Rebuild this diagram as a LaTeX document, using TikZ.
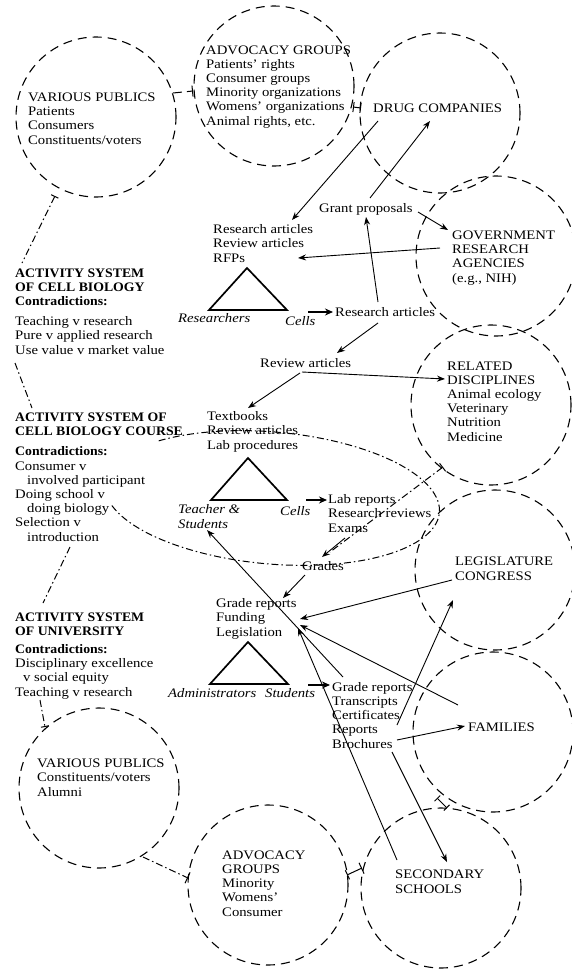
\documentclass[tikz,border=0pt]{standalone}
\usepackage{fontspec}
\setmainfont[FakeStretch=1.13]{Liberation Serif}
\newfontfamily\hdfont[FakeStretch=1.06]{Liberation Serif}
\newcommand\hdb[1]{{\hdfont\bfseries #1}}
\usetikzlibrary{arrows.meta}
\begin{document}
\begin{tikzpicture}[x=1pt,y=-1pt,
 circ/.style={circle,draw,dash pattern=on 9pt off 6pt,line width=1.1pt,minimum size=160pt,inner sep=0pt},
 txt/.style={font=\fontsize{13}{14.2}\selectfont,inner sep=0pt,align=left,anchor=base west},
 itxt/.style={txt,font=\fontsize{13}{14.2}\selectfont\itshape},
 arr/.style={line width=0.9pt,-{Stealth[length=8pt,width=6pt]}},
 tarr/.style={line width=1.6pt,-{Stealth[length=8pt,width=7pt]}},
 ddot/.style={line width=1pt,dash pattern=on 7pt off 3pt on 1.5pt off 3pt},
 dlink/.style={line width=1pt,dash pattern=on 9pt off 5pt},
 tri/.style={line width=1.7pt,line join=miter}
]
\useasboundingbox (0,0) rectangle (572,969);
% circles
\node[circ] (vpA) at (96,117) {};
\node[circ] (advA) at (274,86) {};
\node[circ] (drug) at (440,113) {};
\node[circ] (gov) at (496,256) {};
\node[circ] (rel) at (491,405) {};
\node[circ] (leg) at (495,570) {};
\node[circ] (fam) at (493,732) {};
\node[circ] (sec) at (441,888) {};
\node[circ] (advB) at (268,885) {};
\node[circ] (vpB) at (99,788) {};
% course ellipse (left end hidden behind the label text)
\coordinate (ellc) at (272,498);
\draw[ddot,rotate around={-5:(ellc)}] (ellc) ++(199:168pt and 66pt)
  arc[start angle=199, end angle=495, x radius=168pt, y radius=66pt];
% circle texts (anchor = baseline of last line)
\node[txt] (tvpA) at (28,144) {VARIOUS PUBLICS\\Patients\\Consumers\\Constituents/voters};
\node[txt] (tadvA) at (206,125) {ADVOCACY GROUPS\\Patients' rights\\Consumer groups\\Minority organizations\\Womens' organizations\\Animal rights, etc.};
\node[txt] (tdrug) at (373,112) {DRUG COMPANIES};
\node[txt] (tgov) at (452,282) {GOVERNMENT\\RESEARCH\\AGENCIES\\(e.g., NIH)};
\node[txt] (trel) at (447,441) {RELATED\\DISCIPLINES\\Animal ecology\\Veterinary\\Nutrition\\Medicine};
\node[txt] (tleg) at (455,580) {LEGISLATURE\\CONGRESS};
\node[txt] (tfam) at (468,731) {FAMILIES};
\node[txt] (tsec) at (395,893) {SECONDARY\\SCHOOLS};
\node[txt] (tadvB) at (222,916) {ADVOCACY\\GROUPS\\Minority\\Womens'\\Consumer};
\node[txt] (tvpB) at (37,796) {VARIOUS PUBLICS\\Constituents/voters\\Alumni};
% left labels
\node[txt] (lab1) at (15,354) {\hdb{ACTIVITY SYSTEM}\\\hdb{OF CELL BIOLOGY}\\\hdb{Contradictions:}\\[6pt]Teaching v research\\Pure v applied research\\Use value v market value};
\node[txt] (lab2) at (15,541) {\hdb{ACTIVITY SYSTEM OF}\\\hdb{CELL BIOLOGY COURSE}\\[6pt]\hdb{Contradictions:}\\Consumer v\\\hspace*{12pt}involved participant\\Doing school v\\\hspace*{12pt}doing biology\\Selection v\\\hspace*{12pt}introduction};
\node[txt] (lab3) at (15,696) {\hdb{ACTIVITY SYSTEM}\\\hdb{OF UNIVERSITY}\\[4pt]\hdb{Contradictions:}\\Disciplinary excellence\\\hspace*{8pt}v social equity\\Teaching v research};
% center texts
\node[txt] (grant) at (319,212) {Grant proposals};
\node[txt] (rart) at (213,262) {Research articles\\Review articles\\RFPs};
\node[itxt] (res) at (178,322) {Researchers};
\node[itxt] (cells1) at (285,325) {Cells};
\node[txt] (resart) at (335,316) {Research articles};
\node[txt] (revart) at (260,367) {Review articles};
\node[txt] (textb) at (207,449) {Textbooks\\Review articles\\Lab procedures};
\node[itxt] (ts) at (178,528) {Teacher \&\\Students};
\node[itxt] (cells2) at (280,515) {Cells};
\node[txt] (lab) at (328,532) {Lab reports\\Research reviews\\Exams};
\node[txt] (grades) at (302,570) {Grades};
\node[txt] (grep) at (216,636) {Grade reports\\Funding\\Legislation};
\node[itxt] (adm) at (168,697) {Administrators};
\node[itxt] (stud) at (265,697) {Students};
\node[txt] (lgr) at (332,748) {Grade reports\\Transcripts\\Certificates\\Reports\\Brochures};
% triangles
\draw[tri] (247,268) -- (209,310) -- (287,310) -- cycle;
\draw[tri] (248,458) -- (211,500) -- (287,500) -- cycle;
\draw[tri] (248,642) -- (210,684) -- (288,684) -- cycle;
% arrow endpoints
\coordinate (d1) at (378,121); \coordinate (r1) at (292,220);
\coordinate (g1) at (370,198); \coordinate (d2) at (430,121);
\coordinate (ra1) at (378,302); \coordinate (g2) at (366,217);
\coordinate (g3) at (418,212); \coordinate (gv1) at (448,230);
\coordinate (gv2) at (440,248); \coordinate (rf) at (298,258);
\coordinate (c1) at (308,312); \coordinate (ra2) at (333,312);
\coordinate (ra3) at (378,323); \coordinate (rv1) at (337,353);
\coordinate (rv2) at (302,372); \coordinate (rl1) at (445,379);
\coordinate (rv3) at (300,373); \coordinate (tb) at (248,408);
\coordinate (c2) at (306,500); \coordinate (lb) at (327,500);
\coordinate (ex) at (345,538); \coordinate (gd1) at (322,557);
\coordinate (gd2) at (305,575); \coordinate (gr1) at (283,598);
\coordinate (st) at (308,685); \coordinate (lg1) at (330,685);
\coordinate (lg2) at (452,580); \coordinate (gr2) at (300,619);
\coordinate (fm1) at (458,705); \coordinate (gr3) at (300,625);
\coordinate (sc1) at (397,860); \coordinate (gr4) at (298,628);
\coordinate (lgr1) at (343,677); \coordinate (ts1) at (207,530);
\coordinate (lgr2) at (397,725); \coordinate (lg3) at (453,600);
\coordinate (lgr3) at (397,740); \coordinate (fm2) at (465,726);
\coordinate (lgr4) at (392,752); \coordinate (sc2) at (447,862);
\draw[arr] (d1) -- (r1);
\draw[arr] (g1) -- (d2);
\draw[arr] (ra1) -- (g2);
\draw[arr] (g3) -- (gv1);
\draw[arr] (gv2) -- (rf);
\draw[tarr] (c1) -- (ra2);
\draw[arr] (ra3) -- (rv1);
\draw[arr] (rv2) -- (rl1);
\draw[arr] (rv3) -- (tb);
\draw[tarr] (c2) -- (lb);
\draw[arr] (ex) -- (gd1);
\draw[arr] (gd2) -- (gr1);
\draw[tarr] (st) -- (lg1);
\draw[arr] (lg2) -- (gr2);
\draw[arr] (fm1) -- (gr3);
\draw[arr] (sc1) -- (gr4);
\draw[arr] (lgr1) -- (ts1);
\draw[arr] (lgr2) -- (lg3);
\draw[arr] (lgr3) -- (fm2);
\draw[arr] (lgr4) -- (sc2);
% links between circles and labels
\coordinate (k1) at (173,93); \coordinate (k2) at (193,91);
\draw[dlink,-{Bar[width=11pt]}] (k1) -- (k2);
\coordinate (k3) at (353,107); \coordinate (k4) at (361,108);
\draw[line width=1pt,{Bar[width=10pt]}-{Bar[width=10pt]}] (k3) -- (k4);
\coordinate (k5) at (347,875); \coordinate (k6) at (362,868);
\draw[line width=1pt,{Bar[width=10pt]}-{Bar[width=12pt]}] (k5) -- (k6);
\coordinate (k7) at (437,798); \coordinate (k8) at (447,808);
\draw[line width=1pt,{Bar[width=8pt]}-{Bar[width=8pt]}] (k7) -- (k8);
\coordinate (k9) at (143,857); \coordinate (k10) at (188,878);
\draw[ddot,-{Bar[width=12pt]}] (k9) -- (k10);
\coordinate (k11) at (40,700); \coordinate (k12) at (45,727);
\draw[ddot,-{Bar[width=8pt]}] (k11) -- (k12);
\coordinate (k13) at (70,547); \coordinate (k14) at (43,603);
\draw[ddot] (k13) -- (k14);
\coordinate (k15) at (15,363); \coordinate (k16) at (32,408);
\draw[ddot] (k15) -- (k16);
\coordinate (k17) at (55,196); \coordinate (k18) at (22,263);
\draw[ddot,{Bar[width=8pt]}-] (k17) -- (k18);
\coordinate (k19) at (443,467); \coordinate (k20) at (330,552);
\draw[ddot,{Bar[width=10pt]}-] (k19) -- (k20);
\end{tikzpicture}
\end{document}
